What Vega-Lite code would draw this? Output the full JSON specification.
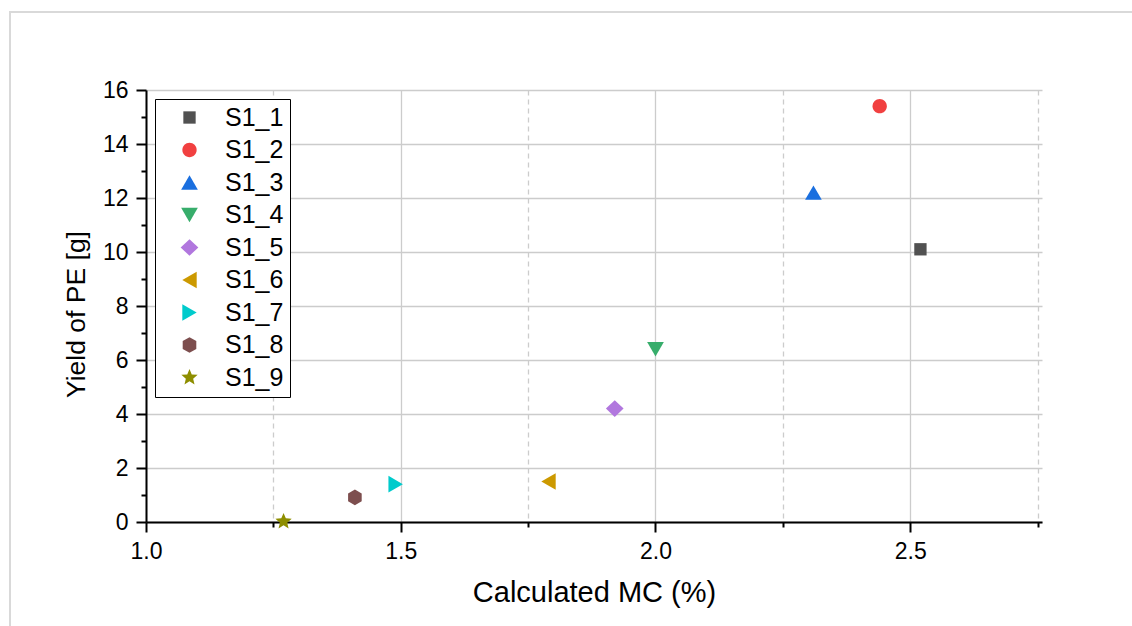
{
  "$schema": "https://vega.github.io/schema/vega-lite/v6.json",
  "width": 896,
  "height": 432,
  "autosize": {"type": "none"},
  "padding": {"left": 146, "top": 90, "right": 90, "bottom": 104},
  "background": "white",
  "config": {
    "view": {"stroke": null},
    "font": "Liberation Sans",
    "axis": {"labelFont": "Liberation Sans", "titleFont": "Liberation Sans", "labelFlush": false}
  },
  "data": {
    "values": [
      {"series": "S1_1", "mc": 2.52, "yield": 10.1},
      {"series": "S1_2", "mc": 2.44, "yield": 15.4},
      {"series": "S1_3", "mc": 2.31, "yield": 12.2},
      {"series": "S1_4", "mc": 2.0, "yield": 6.4},
      {"series": "S1_5", "mc": 1.92, "yield": 4.2},
      {"series": "S1_6", "mc": 1.79, "yield": 1.5},
      {"series": "S1_7", "mc": 1.49, "yield": 1.4},
      {"series": "S1_8", "mc": 1.41, "yield": 0.91},
      {"series": "S1_9", "mc": 1.27, "yield": 0.02}
    ]
  },
  "layer": [
    {
      "data": {"values": [{}]},
      "mark": {"type": "rect", "fill": null, "filled": false, "stroke": "#d9d9d9", "strokeWidth": 2, "clip": false},
      "encoding": {
        "x": {"datum": 0.7331, "type": "quantitative", "axis": null},
        "x2": {"datum": 3.0},
        "y": {"datum": 18.889, "type": "quantitative", "axis": null},
        "y2": {"datum": -6}
      }
    },
    {
      "mark": {"type": "point", "opacity": 0},
      "encoding": {
        "x": {
          "field": "mc",
          "type": "quantitative",
          "scale": {"domain": [1, 2.7586], "nice": false, "zero": false},
          "axis": {
            "orient": "bottom",
            "values": [1.25, 1.75, 2.25, 2.75],
            "labels": false,
            "domain": false,
            "ticks": true,
            "tickSize": 5,
            "tickWidth": 2,
            "tickColor": "black",
            "grid": true,
            "gridColor": "#cccccc",
            "gridWidth": 1.3,
            "gridDash": [5, 4],
            "title": null
          }
        },
        "y": {
          "field": "yield",
          "type": "quantitative",
          "scale": {"domain": [0, 16], "nice": false, "zero": false},
          "axis": {
            "orient": "left",
            "values": [1, 3, 5, 7, 9, 11, 13, 15],
            "labels": false,
            "domain": false,
            "ticks": true,
            "tickSize": 5,
            "tickWidth": 2,
            "tickColor": "black",
            "grid": false,
            "title": null
          }
        }
      }
    },
    {
      "mark": {"type": "point", "filled": true, "opacity": 1, "strokeWidth": 0, "size": 256},
      "encoding": {
        "x": {
          "field": "mc",
          "type": "quantitative",
          "scale": {"domain": [1, 2.7586], "nice": false, "zero": false},
          "axis": {
            "orient": "bottom",
            "values": [1, 1.5, 2, 2.5],
            "format": ".1f",
            "domainColor": "black",
            "domainWidth": 2,
            "tickSize": 10,
            "tickWidth": 2,
            "tickColor": "black",
            "labelFontSize": 23,
            "labelColor": "black",
            "labelPadding": 8,
            "grid": true,
            "gridColor": "#cccccc",
            "gridWidth": 1.3,
            "title": "Calculated MC (%)",
            "titleFontSize": 29,
            "titleFontWeight": "normal",
            "titleColor": "black",
            "titlePadding": 15
          }
        },
        "y": {
          "field": "yield",
          "type": "quantitative",
          "scale": {"domain": [0, 16], "nice": false, "zero": false},
          "axis": {
            "orient": "left",
            "values": [0, 2, 4, 6, 8, 10, 12, 14, 16],
            "domainColor": "black",
            "domainWidth": 2,
            "tickSize": 10,
            "tickWidth": 2,
            "tickColor": "black",
            "labelFontSize": 23,
            "labelColor": "black",
            "labelPadding": 8,
            "grid": true,
            "gridColor": "#cccccc",
            "gridWidth": 1.3,
            "title": "Yield of PE [g]",
            "titleFontSize": 26.5,
            "titleFontWeight": "normal",
            "titleColor": "black",
            "titlePadding": 12,
            "titleY": 224
          }
        },
        "color": {
          "field": "series",
          "type": "nominal",
          "scale": {
            "domain": ["S1_1", "S1_2", "S1_3", "S1_4", "S1_5", "S1_6", "S1_7", "S1_8", "S1_9"],
            "range": ["#515151", "#F14040", "#1A6FDF", "#37AD6B", "#B177DE", "#CC9900", "#00CBCC", "#7D4E4E", "#8E8E00"]
          },
          "legend": {
            "title": null,
            "orient": "top-left",
            "offset": 9,
            "strokeColor": "black",
            "fillColor": "white",
            "padding": 6,
            "labelFontSize": 25,
            "labelColor": "black",
            "labelFont": "Liberation Sans",
            "rowPadding": 6.5,
            "symbolSize": 256,
            "symbolStrokeWidth": 0,
            "symbolOpacity": 1,
            "symbolOffset": 16,
            "labelOffset": 23
          }
        },
        "shape": {
          "field": "series",
          "type": "nominal",
          "scale": {
            "domain": ["S1_1", "S1_2", "S1_3", "S1_4", "S1_5", "S1_6", "S1_7", "S1_8", "S1_9"],
            "range": [
              "M-0.77,-0.77L0.77,-0.77L0.77,0.77L-0.77,0.77Z",
              "M0.894,0A0.894,0.894,0,1,1,-0.894,0A0.894,0.894,0,1,1,0.894,0Z",
              "M0,-0.9L1.044,0.9L-1.044,0.9Z",
              "M0,0.9L1.044,-0.9L-1.044,-0.9Z",
              "M0,-1.044L1.106,0L0,1.044L-1.106,0Z",
              "M-0.9,0L0.9,-1.044L0.9,1.044Z",
              "M0.9,0L-0.9,-1.044L-0.9,1.044Z",
              "M0,-0.981L0.85,-0.49L0.85,0.49L0,0.981L-0.85,0.49L-0.85,-0.49Z",
              "M0,-1.07L0.283,-0.3895L1.0176,-0.3306L0.458,0.1488L0.629,0.8656L0,0.4815L-0.629,0.8656L-0.458,0.1488L-1.0176,-0.3306L-0.283,-0.3895Z"
            ]
          }
        }
      }
    }
  ],
  "resolve": {"axis": {"x": "independent", "y": "independent"}}
}
